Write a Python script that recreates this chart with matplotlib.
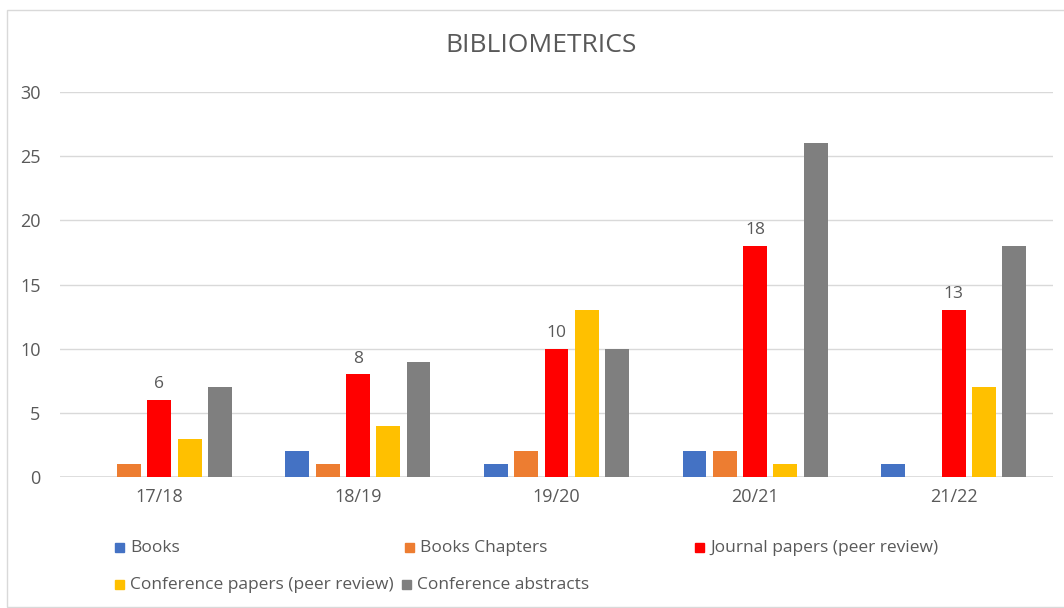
import numpy as np
import matplotlib
matplotlib.use('Agg')
import matplotlib.pyplot as plt
from matplotlib.patches import Rectangle

plt.rcParams['font.family'] = ['Open Sans', 'DejaVu Sans']

years = ['17/18', '18/19', '19/20', '20/21', '21/22']
books = [0, 2, 1, 2, 1]
chapters = [1, 1, 2, 2, 0]
journal = [6, 8, 10, 18, 13]
conf_papers = [3, 4, 13, 1, 7]
conf_abstracts = [7, 9, 10, 26, 18]

names = ['Books', 'Books Chapters', 'Journal papers (peer review)',
         'Conference papers (peer review)', 'Conference abstracts']
colors = ['#4472C4', '#ED7D31', '#FF0000', '#FFC000', '#7F7F7F']
series = [books, chapters, journal, conf_papers, conf_abstracts]

txt = '#595959'
W, H = 1064, 608
fig = plt.figure(figsize=(W/100, H/100), dpi=100)
ax = fig.add_axes([60/W, (H-477)/H, (1053-60)/W, (477-92)/H])

x = np.arange(len(years))
slot = 0.1525
bw = 0.12
for i, (vals, c) in enumerate(zip(series, colors)):
    vals = np.array(vals, dtype=float)
    pos = x + (i - 2) * slot
    ax.bar(pos, np.where(vals > 0, vals, np.nan), width=bw, color=c, zorder=3)
    if i == 2:
        for p, v in zip(pos, vals):
            ax.text(p, v + 0.6, f'{int(v)}', ha='center', va='bottom',
                    fontsize=12.5, color=txt)

ax.set_xlim(-0.5, len(years) - 0.5)
ax.set_ylim(0, 30)
ax.set_yticks(range(0, 31, 5))
ax.set_xticks(x)
ax.set_xticklabels(years)
ax.grid(axis='y', color='#D9D9D9', linewidth=1, zorder=0)
for s in ax.spines.values():
    s.set_visible(False)
ax.axhline(0, color='#D9D9D9', linewidth=1.2, zorder=2)
ax.tick_params(length=0, labelsize=13, colors=txt)
ax.tick_params(axis='y', pad=14)
ax.tick_params(axis='x', pad=8)

fig.text(541/W, 1 - 46/H, 'BIBLIOMETRICS', ha='center', va='center',
         fontsize=19, color=txt)

# legend, laid out like the Excel one
leg_pos = [(115, 548), (405, 548), (695, 548), (115, 585), (402, 585)]
for (lx, ly), name, c in zip(leg_pos, names, colors):
    fig.patches.append(Rectangle((lx/W, (H-ly-4)/H), 9/W, 9/H, color=c,
                                 transform=fig.transFigure, figure=fig))
    fig.text((lx+15)/W, (H-ly)/H, name, ha='left', va='center',
             fontsize=12.5, color=txt)

# chart border
fig.patches.append(Rectangle((7/W, 1/H), 1.1, (H-11)/H, fill=False,
                             edgecolor='#D9D9D9', linewidth=1,
                             transform=fig.transFigure, figure=fig))

fig.savefig('out.png', dpi=100)
